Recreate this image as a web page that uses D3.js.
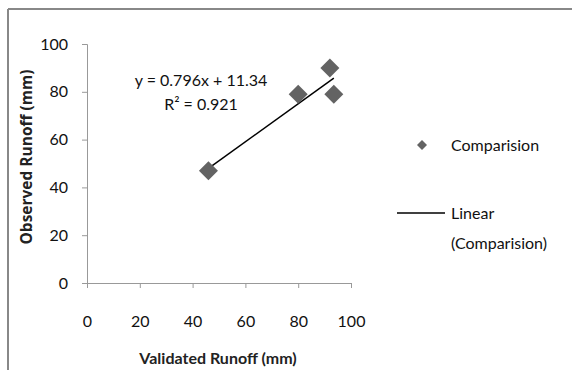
<!DOCTYPE html>
<html>
<head>
<meta charset="utf-8">
<script src="https://cdn.jsdelivr.net/npm/d3@7"></script>
<style>
  body { margin: 0; background: #fff; }
  text { font-family: Lato, "Liberation Sans", sans-serif; }
</style>
</head>
<body>
<div class="CHART"></div>
<script>
// data
var validated = [46, 80, 92, 93.5];
var observed = [47, 79, 90, 79];
var xTicks = [0, 20, 40, 60, 80, 100];
var yTicks = [0, 20, 40, 60, 80, 100];
var slope = 0.796, intercept = 11.34;

var width = 572, height = 370;

var canvas = d3.select(".CHART").append("svg")
    .attr("width", width)
    .attr("height", height);

// outer frame (only top and left edges show)
canvas.append("line").attr("x1", 8).attr("x2", width).attr("y1", 9).attr("y2", 9)
    .attr("stroke", "#888").attr("stroke-width", 2);
canvas.append("line").attr("x1", 8).attr("x2", 8).attr("y1", 9).attr("y2", height)
    .attr("stroke", "#888").attr("stroke-width", 2);

var scaleX = d3.scaleLinear().domain([0, 100]).range([87, 351]);
var scaleY = d3.scaleLinear().domain([0, 100]).range([283, 44]);

// x axis
var xAxis = canvas.append("g").attr("transform", "translate(0,283)")
    .call(d3.axisBottom(scaleX).tickValues(xTicks).tickSize(5).tickPadding(28));
// y axis
var yAxis = canvas.append("g").attr("transform", "translate(87,0)")
    .call(d3.axisLeft(scaleY).tickValues(yTicks).tickSize(5).tickPadding(14));

[xAxis, yAxis].forEach(function(a) {
  a.select(".domain").attr("stroke", "#999");
  a.selectAll(".tick line").attr("stroke", "#999");
  a.selectAll(".tick text").attr("fill", "#111")
    .style("font-family", "Lato, sans-serif").style("font-size", "16px");
});

// axis titles
canvas.append("text")
    .attr("x", 218).attr("y", 364)
    .attr("text-anchor", "middle")
    .style("font-size", "16px").style("font-weight", "bold").attr("fill", "#222")
    .text("Validated Runoff (mm)");
canvas.append("text")
    .attr("transform", "translate(32,157) rotate(-90)")
    .attr("text-anchor", "middle")
    .style("font-family", "'Open Sans', sans-serif")
    .style("font-size", "15.5px").style("font-weight", "bold").attr("fill", "#222")
    .text("Observed Runoff (mm)");

// trend line
var xMin = d3.min(validated), xMax = d3.max(validated);
canvas.append("line")
    .attr("x1", scaleX(xMin)).attr("y1", scaleY(slope * xMin + intercept))
    .attr("x2", scaleX(xMax)).attr("y2", scaleY(slope * xMax + intercept))
    .attr("stroke", "#000").attr("stroke-width", 1.5);

// points
var diamond = d3.symbol().type(d3.symbolSquare).size(180);
canvas.selectAll("path.pt")
    .data(validated)
    .enter()
    .append("path")
    .attr("class", "pt")
    .attr("d", diamond)
    .attr("transform", function(d, i) {
      return "translate(" + scaleX(d) + "," + scaleY(observed[i]) + ") rotate(45)";
    })
    .attr("fill", "#636363");

// equation
canvas.append("text").attr("x", 201).attr("y", 86).attr("text-anchor", "middle")
    .style("font-size", "16px").attr("fill", "#111").text("y = 0.796x + 11.34");
canvas.append("text").attr("x", 201).attr("y", 110).attr("text-anchor", "middle")
    .style("font-size", "16px").attr("fill", "#111").text("R² = 0.921");

// legend
canvas.append("path")
    .attr("d", d3.symbol().type(d3.symbolSquare).size(50))
    .attr("transform", "translate(422,145) rotate(45)")
    .attr("fill", "#636363");
canvas.append("text").attr("x", 451).attr("y", 151)
    .style("font-size", "16px").attr("fill", "#111").text("Comparision");
canvas.append("line").attr("x1", 397).attr("x2", 445).attr("y1", 213).attr("y2", 213)
    .attr("stroke", "#000").attr("stroke-width", 1.5);
canvas.append("text").attr("x", 451).attr("y", 219)
    .style("font-size", "16px").attr("fill", "#111").text("Linear");
canvas.append("text").attr("x", 451).attr("y", 249)
    .style("font-size", "16px").attr("fill", "#111").text("(Comparision)");
</script>
</body>
</html>
